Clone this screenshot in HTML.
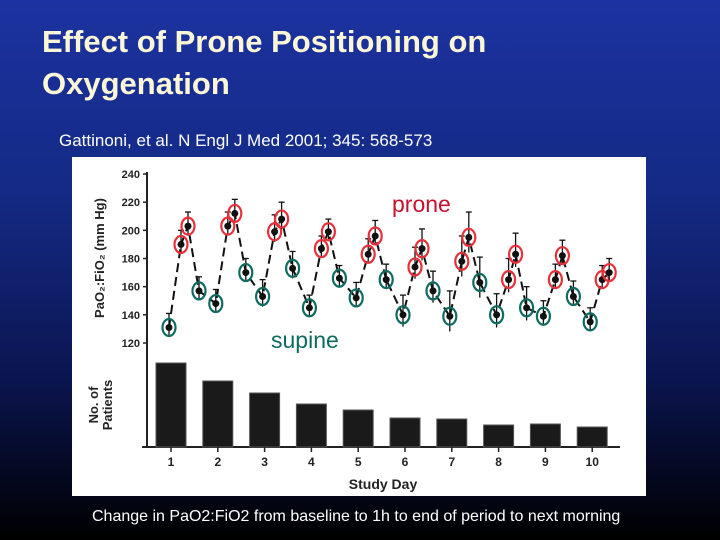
<!DOCTYPE html>
<html><head><meta charset="utf-8"><style>
body{margin:0;width:720px;height:540px;overflow:hidden;background:linear-gradient(180deg,#1c32a0 0%,#142a85 35%,#0b1550 70%,#000 100%);font-family:"Liberation Sans",sans-serif;position:relative}
.t{position:absolute;left:42px;top:21px;color:#fbf6d6;font-weight:bold;font-size:31px;line-height:42px}
.s{position:absolute;left:59px;top:131px;color:#fff;font-size:17px}
.c{position:absolute;left:92px;top:508px;color:#fff;font-size:16px}
</style></head><body>
<div class="t">Effect of Prone Positioning on<br>Oxygenation</div>
<div class="s">Gattinoni, et al. N Engl J Med 2001; 345: 568-573</div>
<svg width="720" height="540" style="position:absolute;left:0;top:0">
<rect x="72" y="157" width="574" height="339" fill="#fff"/>
<g id="g"></g>
<text x="104" y="258" transform="rotate(-90 104 258)" text-anchor="middle" font-size="13" font-weight="bold" fill="#222">PaO₂:FiO₂ (mm Hg)</text>
<text x="98" y="405" transform="rotate(-90 98 405)" text-anchor="middle" font-size="13" font-weight="bold" fill="#222">No. of</text>
<text x="112" y="405" transform="rotate(-90 112 405)" text-anchor="middle" font-size="13" font-weight="bold" fill="#222">Patients</text>
<text x="383" y="489" text-anchor="middle" font-size="14" font-weight="bold" fill="#222">Study Day</text>
<text x="392" y="212" font-size="23" fill="#c8102e">prone</text>
<text x="271" y="348" font-size="23" fill="#0e6b60">supine</text>
</svg>
<div class="c">Change in PaO2:FiO2 from baseline to 1h to end of period to next morning</div>
<script>
const days=[1,2,3,4,5,6,7,8,9,10];
const yTicks=[120,140,160,180,200,220,240];
const baseline=[131,148,153,145,152,140,139,140,139,135];
const prone1h=[190,203,199,187,183,174,178,165,165,165];
const proneEnd=[203,212,208,199,196,187,195,183,182,170];
const morning=[157,170,173,166,165,157,163,145,153,null];
const errs=[10,10,12,9,11,14,18,15,11,10];
const patients=[84,66,54,43,37,29,28,22,23,20];
const NS='http://www.w3.org/2000/svg';const g=document.getElementById('g');
const xs=d=>171+(d-1)*46.8;const ys=v=>343-(v-120)*169/120;const by=n=>447-n;
function mk(t,a,p){const e=document.createElementNS(NS,t);for(const k in a)e.setAttribute(k,a[k]);(p||g).appendChild(e);return e;}
let l=mk('line',{x1:147,y1:172,x2:147,y2:447,stroke:'#222','stroke-width':2});

l=mk('line',{x1:142,y1:447,x2:620,y2:447,stroke:'#222','stroke-width':2});

yTicks.forEach(v=>{mk('line',{x1:143,x2:147,y1:ys(v),y2:ys(v),stroke:'#222','stroke-width':1.5});
const t=mk('text',{x:140,y:ys(v)+4,'text-anchor':'end','font-size':11,'font-weight':'bold',fill:'#222'});t.textContent=v;
});
days.forEach((d,i)=>{const x=xs(d);
const r=mk('rect',{x:x-15,y:by(patients[i]),width:30,height:patients[i],fill:'#1a1a1a',stroke:'#555'});

mk('line',{x1:x,x2:x,y1:447,y2:452,stroke:'#222','stroke-width':1.5});
const t=mk('text',{x:x,y:466,'text-anchor':'middle','font-size':12,'font-weight':'bold',fill:'#222'});t.textContent=d;
});
const pts=[];const offs=[-2,10,17,28];
days.forEach((d,i)=>{[baseline[i],prone1h[i],proneEnd[i],morning[i]].forEach((v,k)=>{if(v!=null)pts.push({x:xs(d)+offs[k],v:v,k:k,e:errs[i]});});});
const pl=mk('polyline',{points:pts.map(p=>p.x+','+ys(p.v)).join(' '),fill:'none',stroke:'#111','stroke-width':2,'stroke-dasharray':'9 5'});

pts.forEach(p=>{const x=p.x,y=ys(p.v),ye=ys(p.v+p.e),yl=ys(p.v-p.e*0.6);
mk('line',{x1:x,x2:x,y1:ye,y2:yl,stroke:'#111','stroke-width':1.3});
mk('line',{x1:x-3,x2:x+3,y1:ye,y2:ye,stroke:'#111','stroke-width':1.3});
const dot=mk('circle',{cx:x,cy:y,r:3.5,fill:'#111'});

const prone=p.k===1||p.k===2;
const el=mk('ellipse',{cx:x,cy:y,rx:6.5,ry:8.5,fill:'none',stroke:prone?'#e8303a':'#0e6b60','stroke-width':2.2});
});
</script>
</body></html>
